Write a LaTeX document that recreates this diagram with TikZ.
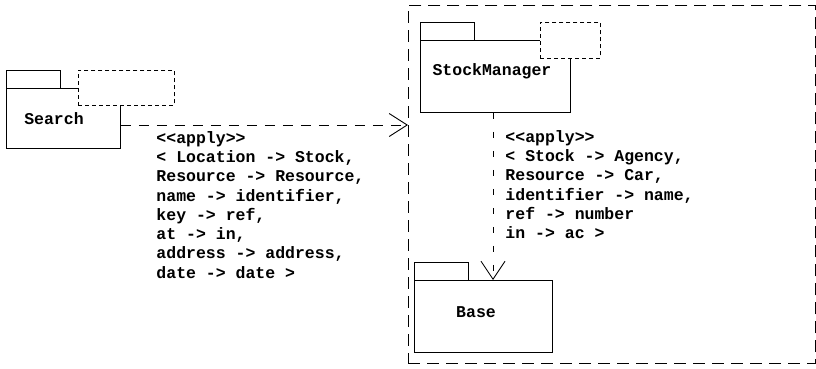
\documentclass[tikz,border=0pt]{standalone}
\usepackage{fontspec}
\setmonofont{Liberation Mono}
\usetikzlibrary{arrows.meta}
\begin{document}
\begin{tikzpicture}[x=1pt,y=-1pt,line width=0.9pt,
  box/.style={draw,rectangle,inner sep=0pt,anchor=north west},
  minibox/.style={draw,dash pattern=on 4pt off 3pt,rectangle,inner sep=0pt,anchor=north west},
  outerbox/.style={draw,dash pattern=on 12pt off 7pt,rectangle,inner sep=0pt,anchor=north west},
  dep/.style={dash pattern=on 10pt off 8pt,-{Straight Barb[length=18pt,width=23pt,line width=0.9pt]}},
  vdep/.style={dash pattern=on 6pt off 13pt,-{Straight Barb[length=18pt,width=24pt,line width=0.9pt]}},
  lbl/.style={font=\ttfamily\bfseries\fontsize{16.5}{19.25}\selectfont,align=left,inner sep=0pt,anchor=north west},
  pname/.style={font=\ttfamily\bfseries\fontsize{16.5}{19.25}\selectfont,inner sep=0pt}]
\useasboundingbox (0,0) rectangle (816,368);
% outer dashed box
\node[outerbox,minimum width=407pt,minimum height=358pt] (outer) at (408,5) {};
% Search package
\node[box,minimum width=54pt,minimum height=18pt] (stab) at (6,70) {};
\node[box,minimum width=114pt,minimum height=60pt] (sbody) at (6,88) {};
\node[minibox,minimum width=96pt,minimum height=35pt,fill=white] (sdash) at (78,70) {};
\node[pname] (sname) at (54,119) {Search};
% StockManager package
\node[box,minimum width=54pt,minimum height=18pt] (mtab) at (420,22) {};
\node[box,minimum width=150pt,minimum height=72pt] (mbody) at (420,40) {};
\node[minibox,minimum width=60pt,minimum height=36pt,fill=white] (mdash) at (540,22) {};
\node[pname] (mname) at (492,71) {StockManager};
% Base package
\node[box,minimum width=54pt,minimum height=18pt] (btab) at (414,262) {};
\node[box,minimum width=138pt,minimum height=72pt] (bbody) at (414,280) {};
\node[pname] (bname) at (476,312) {Base};
% connectors
\draw[dep] (sbody.east |- 0,125) -- (outer.west |- 0,125);
\draw[vdep] (mbody.south -| 493,0) -- (bbody.north -| 493,0);
% labels
\node[lbl] (l1) at (156,131) {<{}<apply>{}>\\< Location -> Stock,\\Resource -> Resource,\\name -> identifier,\\key -> ref,\\at -> in,\\address -> address,\\date -> date >};
\node[lbl] (l2) at (505,130) {<{}<apply>{}>\\< Stock -> Agency,\\Resource -> Car,\\identifier -> name,\\ref -> number\\in -> ac >};
\end{tikzpicture}
\end{document}
